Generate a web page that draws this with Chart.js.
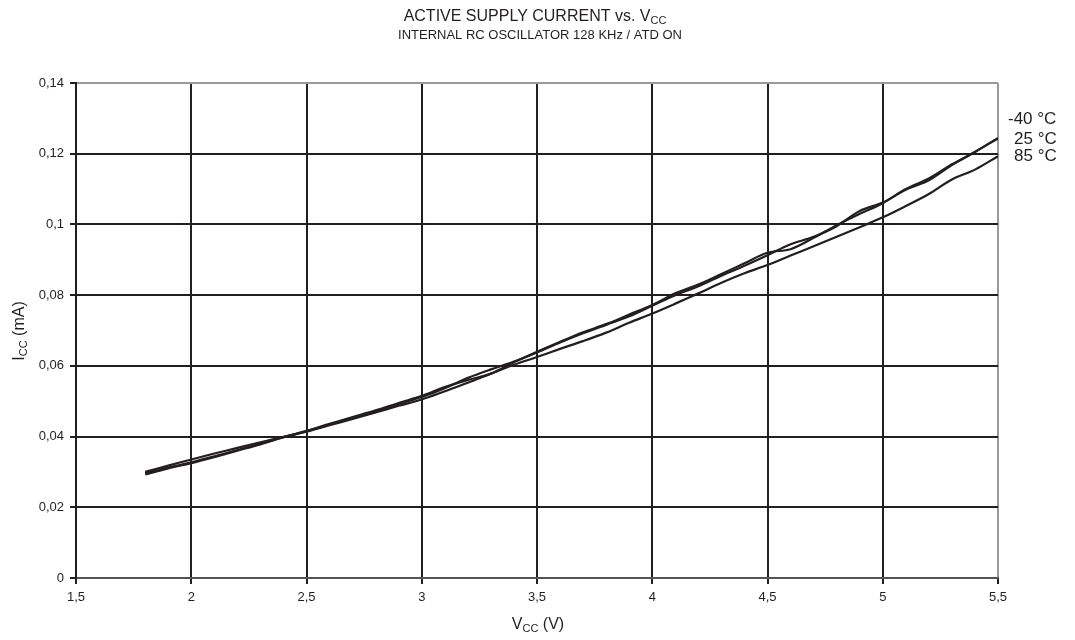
<!DOCTYPE html>
<html><head><meta charset="utf-8">
<script src="https://cdn.jsdelivr.net/npm/chart.js@4.4.1/dist/chart.umd.min.js"></script>
<style>html,body{margin:0;padding:0;background:#fff}</style>
</head><body>
<canvas id="c" width="1075" height="640"></canvas>
<script>
const voltages = [1.8,1.9,2.0,2.1,2.2,2.3,2.4,2.5,2.6,2.7,2.8,2.9,3.0,3.1,3.2,3.3,3.4,3.5,3.6,3.7,3.8,3.9,4.0,4.1,4.2,4.3,4.4,4.5,4.6,4.7,4.8,4.9,5.0,5.1,5.2,5.3,5.4,5.5];
const iccM40 = [0.0300,0.0318,0.0335,0.0352,0.0368,0.0384,0.0399,0.0415,0.0434,0.0453,0.0470,0.0492,0.0512,0.0537,0.0566,0.0590,0.0612,0.0638,0.0666,0.0692,0.0716,0.0740,0.0770,0.0800,0.0825,0.0855,0.0883,0.0913,0.0944,0.0965,0.0995,0.1038,0.1062,0.1098,0.1125,0.1168,0.1205,0.1244];
const icc25 = [0.0297,0.0312,0.0327,0.0344,0.0362,0.0380,0.0398,0.0416,0.0436,0.0455,0.0474,0.0495,0.0515,0.0540,0.0560,0.0578,0.0610,0.0640,0.0668,0.0695,0.0718,0.0745,0.0772,0.0805,0.0830,0.0860,0.0890,0.0920,0.0930,0.0962,0.0998,0.1030,0.1060,0.1100,0.1130,0.1170,0.1205,0.1244];
const icc85 = [0.0293,0.0310,0.0325,0.0342,0.0360,0.0378,0.0398,0.0414,0.0432,0.0450,0.0468,0.0487,0.0505,0.0528,0.0552,0.0578,0.0603,0.0625,0.0648,0.0670,0.0694,0.0722,0.0748,0.0776,0.0805,0.0835,0.0862,0.0885,0.0912,0.0938,0.0965,0.0992,0.1020,0.1052,0.1086,0.1127,0.1155,0.1193];
const seriesLabels = ['-40 °C','25 °C','85 °C'];
const xTicks = [1.5,2,2.5,3,3.5,4,4.5,5,5.5];
const yTicks = [0,0.02,0.04,0.06,0.08,0.1,0.12,0.14];

const fmt = v => String(+v.toFixed(3)).replace('.', ',');
const toXY = arr => arr.map((y,i)=>({x:voltages[i], y}));
const INK = '#231f20';

function subText(ctx, parts, x, y, align) {
  let widths = parts.map(p => { ctx.font = p.sub ? p.subFont : p.font; return ctx.measureText(p.t).width; });
  let total = widths.reduce((a,b)=>a+b,0);
  let cx = align === 'center' ? x - total/2 : x;
  parts.forEach((p,i) => {
    ctx.font = p.sub ? p.subFont : p.font;
    ctx.fillText(p.t, cx, y + (p.sub ? p.dy : 0));
    cx += widths[i];
  });
}

const textPlugin = {
  id: 'texts',
  afterDraw(chart) {
    const ctx = chart.ctx;
    ctx.save();
    ctx.fillStyle = INK;
    ctx.textBaseline = 'alphabetic';
    ctx.textAlign = 'left';
    const F = 'Liberation Sans, Arial, sans-serif';
    subText(ctx, [
      {t:'ACTIVE SUPPLY CURRENT vs. V', font:'16px '+F},
      {t:'CC', sub:true, subFont:'11px '+F, dy:3}
    ], 535, 21, 'center');
    ctx.font = '13px ' + F;
    ctx.textAlign = 'center';
    ctx.fillText('INTERNAL RC OSCILLATOR 128 KHz / ATD ON', 540, 39);
    ctx.textAlign = 'left';
    subText(ctx, [
      {t:'V', font:'16px '+F},
      {t:'CC', sub:true, subFont:'11px '+F, dy:3},
      {t:' (V)', font:'16px '+F}
    ], 538, 629, 'center');
    ctx.save();
    ctx.translate(24, 331);
    ctx.rotate(-Math.PI/2);
    subText(ctx, [
      {t:'I', font:'16px '+F},
      {t:'CC', sub:true, subFont:'11px '+F, dy:3},
      {t:' (mA)', font:'16px '+F}
    ], 0, 0, 'center');
    ctx.restore();
    ctx.font = '17px ' + F;
    ctx.fillText(seriesLabels[0], 1008, 124);
    ctx.fillText(seriesLabels[1], 1014, 144);
    ctx.fillText(seriesLabels[2], 1014, 161);
    ctx.restore();
  }
};

const ds = (label, data) => ({
  label, data: toXY(data), borderColor: INK, borderWidth: 2.2,
  pointRadius: 0, tension: 0.35, fill: false
});

new Chart(document.getElementById('c'), {
  type: 'scatter',
  data: { datasets: [ds(seriesLabels[0], iccM40), ds(seriesLabels[1], icc25), ds(seriesLabels[2], icc85)] },
  options: {
    responsive: false, animation: false, showLine: true,
    layout: { padding: { top: 83, right: 77, left: 0, bottom: 0 } },
    plugins: { legend: { display: false }, tooltip: { enabled: false } },
    scales: {
      x: {
        type: 'linear', min: 1.5, max: 5.5,
        afterBuildTicks: s => { s.ticks = xTicks.map(v => ({value: v})); },
        afterFit: s => { s.height = 62; },
        ticks: { callback: v => fmt(v), color: INK, font: { size: 13, family: 'Liberation Sans Narrow, Arial Narrow, Liberation Sans, sans-serif' }, padding: 6, maxRotation: 0 },
        grid: { color: c => c.tick && c.tick.value === 5.5 ? '#9a9a9a' : INK, lineWidth: 2, tickLength: 6, tickColor: INK },
        border: { color: '#555', width: 2 }
      },
      y: {
        type: 'linear', min: 0, max: 0.14,
        afterBuildTicks: s => { s.ticks = yTicks.map(v => ({value: v})); },
        afterFit: s => { s.width = 76; },
        ticks: { callback: v => fmt(v), color: INK, font: { size: 13, family: 'Liberation Sans, Arial, sans-serif' }, padding: 6 },
        grid: { color: c => c.tick && c.tick.value === 0.14 ? '#9a9a9a' : INK, lineWidth: 2, tickLength: 6, tickColor: INK },
        border: { color: INK, width: 2 }
      }
    }
  },
  plugins: [textPlugin]
});
</script>
</body></html>
